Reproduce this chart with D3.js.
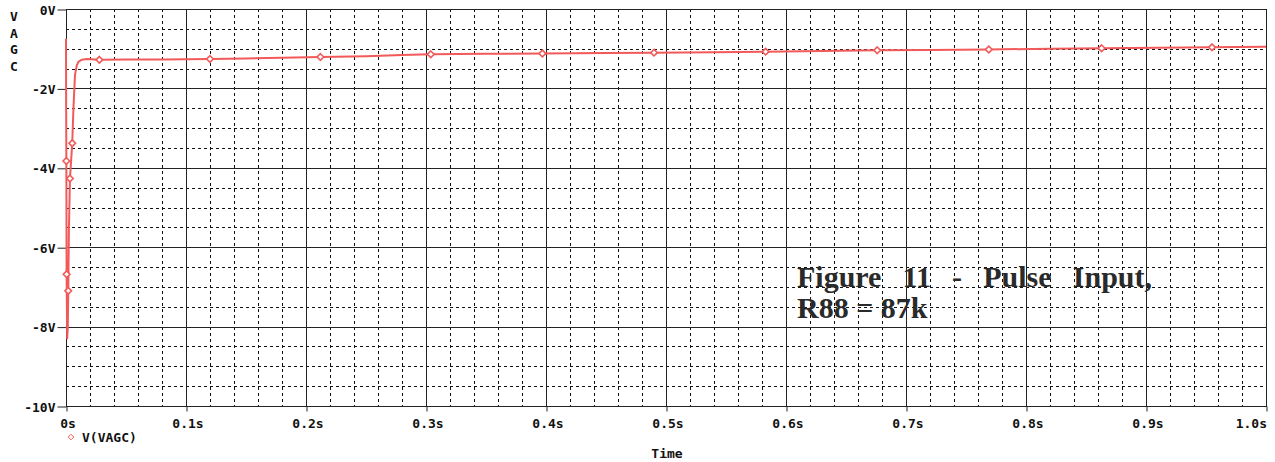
<!DOCTYPE html>
<html>
<head>
<meta charset="utf-8">
<script src="https://cdn.jsdelivr.net/npm/d3@7"></script>
<style>
    body { margin: 0; background: white; }
    svg { display: block; }
</style>
</head>
<body>
<div id="container"></div>
<script>
// V(VAGC) trace (time in s, volts)
const timeS = [0, 0.0001, 0.0003, 0.0005, 0.0008, 0.001, 0.0015, 0.0019, 0.0024, 0.0033, 0.0043, 0.0052,
    0.0062, 0.0075, 0.009, 0.0103, 0.013, 0.0175, 0.0278, 0.05, 0.08, 0.12, 0.15, 0.18, 0.212, 0.25, 0.28,
    0.304, 0.35, 0.397, 0.45, 0.49, 0.54, 0.583, 0.63, 0.676, 0.72, 0.769, 0.82, 0.863, 0.91, 0.955, 1.0]
const vagc = [-0.75, -2.3, -3.83, -6.68, -7.8, -8.3, -8.0, -7.1, -5.6, -4.27, -3.8, -3.38,
    -2.5, -1.66, -1.42, -1.33, -1.28, -1.26, -1.28, -1.275, -1.27, -1.26, -1.245, -1.23, -1.21, -1.19, -1.16,
    -1.14, -1.13, -1.12, -1.11, -1.10, -1.09, -1.075, -1.06, -1.04, -1.03, -1.02, -1.0, -0.99, -0.975, -0.965, -0.95]

// symbols PSpice put on the trace
const markerT = [0.0003, 0.0005, 0.0019, 0.0033, 0.0052, 0.0278, 0.12, 0.212, 0.304, 0.397, 0.49, 0.583, 0.676, 0.769, 0.863, 0.955]
const markerV = [-3.83, -6.68, -7.1, -4.27, -3.38, -1.28, -1.26, -1.21, -1.14, -1.12, -1.10, -1.075, -1.04, -1.02, -0.99, -0.965]

const yTicks = [0, -2, -4, -6, -8, -10]
const yTickLabels = ["0V", "-2V", "-4V", "-6V", "-8V", "-10V"]
const xTicks = [0, 0.1, 0.2, 0.3, 0.4, 0.5, 0.6, 0.7, 0.8, 0.9, 1.0]
const xTickLabels = ["0s", "0.1s", "0.2s", "0.3s", "0.4s", "0.5s", "0.6s", "0.7s", "0.8s", "0.9s", "1.0s"]
const yLabel = ["V", "A", "G", "C"]
const noteLines = ["Figure 11 - Pulse Input,", "R88 = 87k"]

const w = 1275
const h = 462
const plotLeft = 66, plotRight = 1266, plotTop = 9, plotBottom = 406
const traceColor = "#f25a5a"
const mono = "'DejaVu Sans Mono', monospace"
const monoSize = "13px"

const svg = d3.select("#container")
    .append("svg")
    .attr("width", w)
    .attr("height", h)

const x = d3.scaleLinear().domain([0, 1]).range([plotLeft, plotRight])
const y = d3.scaleLinear().domain([-10, 0]).range([plotBottom, plotTop])

// minor dashed grid
const grid = svg.append("g")
grid.selectAll(null)
    .data(d3.range(0, 1.0001, 0.02).filter((d) => Math.round(d * 50) % 5 !== 0))
    .enter()
    .append("line")
    .attr("x1", (d) => Math.round(x(d)) + 0.5)
    .attr("x2", (d) => Math.round(x(d)) + 0.5)
    .attr("y1", plotTop)
    .attr("y2", plotBottom)
    .attr("stroke", "#111")
    .attr("stroke-dasharray", "3,3")
grid.selectAll(null)
    .data(d3.range(-10, 0.0001, 0.5).filter((d) => Math.round(d * 2) % 4 !== 0))
    .enter()
    .append("line")
    .attr("x1", plotLeft)
    .attr("x2", plotRight)
    .attr("y1", (d) => Math.round(y(d)) + 0.5)
    .attr("y2", (d) => Math.round(y(d)) + 0.5)
    .attr("stroke", "#111")
    .attr("stroke-dasharray", "3,3")

// major solid grid
grid.selectAll(null)
    .data(xTicks)
    .enter()
    .append("line")
    .attr("x1", (d) => Math.round(x(d)) + 0.5)
    .attr("x2", (d) => Math.round(x(d)) + 0.5)
    .attr("y1", plotTop)
    .attr("y2", plotBottom)
    .attr("stroke", "#222")
grid.selectAll(null)
    .data(yTicks)
    .enter()
    .append("line")
    .attr("x1", plotLeft)
    .attr("x2", plotRight)
    .attr("y1", (d) => Math.round(y(d)) + 0.5)
    .attr("y2", (d) => Math.round(y(d)) + 0.5)
    .attr("stroke", "#222")

// axes
const yAxis = d3.axisLeft(y)
    .tickValues(yTicks)
    .tickFormat((d, i) => yTickLabels[i])
    .tickSize(9)
    .tickPadding(2)
const gy = svg.append("g")
    .attr("transform", `translate(${plotLeft + 0.5}, 0.5)`)
    .call(yAxis)
gy.select(".domain").remove()
gy.selectAll(".tick line").attr("stroke", "#222")
gy.selectAll(".tick text")
    .attr("font-family", mono)
    .attr("font-weight", "bold")
    .attr("font-size", monoSize)
    .attr("fill", "#111")
    .attr("dy", "0.36em")

const xAxis = d3.axisBottom(x)
    .tickValues(xTicks)
    .tickFormat((d, i) => xTickLabels[i])
    .tickSize(5)
    .tickPadding(3)
const gx = svg.append("g")
    .attr("transform", `translate(0.5, ${plotBottom + 0.5})`)
    .call(xAxis)
gx.select(".domain").remove()
gx.selectAll(".tick line").attr("stroke", "#222")
gx.selectAll(".tick text")
    .attr("font-family", mono)
    .attr("font-weight", "bold")
    .attr("font-size", monoSize)
    .attr("fill", "#111")
    .attr("y", 21)
    .attr("dy", 0)
    .attr("text-anchor", (d, i) => i === xTicks.length - 1 ? "end" : "middle")
    .attr("x", (d, i) => i === xTicks.length - 1 ? 0 : 1)

// frame
svg.append("rect")
    .attr("x", plotLeft + 0.5)
    .attr("y", plotTop + 0.5)
    .attr("width", plotRight - plotLeft)
    .attr("height", plotBottom - plotTop)
    .attr("fill", "none")
    .attr("stroke", "#222")

// y label, stacked letters
svg.append("g")
    .selectAll(null)
    .data(yLabel)
    .enter()
    .append("text")
    .attr("x", 14)
    .attr("y", (d, i) => 21 + i * 16.7)
    .attr("text-anchor", "middle")
    .attr("font-family", mono)
    .attr("font-weight", "bold")
    .attr("font-size", monoSize)
    .attr("fill", "#111")
    .text((d) => d)

// trace
const points = timeS.map((t, i) => [t, vagc[i]])
const line = d3.line()
    .x((d) => x(d[0]))
    .y((d) => y(d[1]))
svg.append("path")
    .datum(points)
    .attr("d", line)
    .attr("fill", "none")
    .attr("stroke", traceColor)
    .attr("stroke-width", 2)
    .attr("stroke-linejoin", "round")

const diamond = d3.symbol().type(d3.symbolDiamond2).size(28)
svg.selectAll(null)
    .data(markerT.map((t, i) => [t, markerV[i]]))
    .enter()
    .append("path")
    .attr("d", diamond)
    .attr("transform", (d) => `translate(${x(d[0])}, ${y(d[1])})`)
    .attr("fill", "white")
    .attr("stroke", traceColor)
    .attr("stroke-width", 1.6)

// legend
svg.append("path")
    .attr("d", d3.symbol().type(d3.symbolDiamond2).size(20))
    .attr("transform", "translate(71, 437)")
    .attr("fill", "none")
    .attr("stroke", traceColor)
    .attr("stroke-width", 1)
svg.append("text")
    .attr("x", 82)
    .attr("y", 442)
    .attr("font-family", mono)
    .attr("font-weight", "bold")
    .attr("font-size", monoSize)
    .attr("fill", "#111")
    .text("V(VAGC)")

svg.append("text")
    .attr("x", 667)
    .attr("y", 458)
    .attr("text-anchor", "middle")
    .attr("font-family", mono)
    .attr("font-weight", "bold")
    .attr("font-size", monoSize)
    .attr("fill", "#111")
    .text("Time")

// caption inside the plot, first line justified
const note = svg.append("g")
noteLines.forEach((txt, i) => {
    const t = note.append("text")
        .attr("x", 797)
        .attr("y", 287 + i * 31)
        .attr("font-family", "'Liberation Serif', serif")
        .attr("font-weight", "bold")
        .attr("font-size", "30px")
        .attr("fill", "#2a2a2a")
        .text(txt)
    if (i === 0) {
        const natural = t.node().getComputedTextLength()
        const gaps = txt.split(" ").length - 1
        t.attr("word-spacing", `${(355 - natural) / gaps}px`)
    }
})
</script>
</body>
</html>
